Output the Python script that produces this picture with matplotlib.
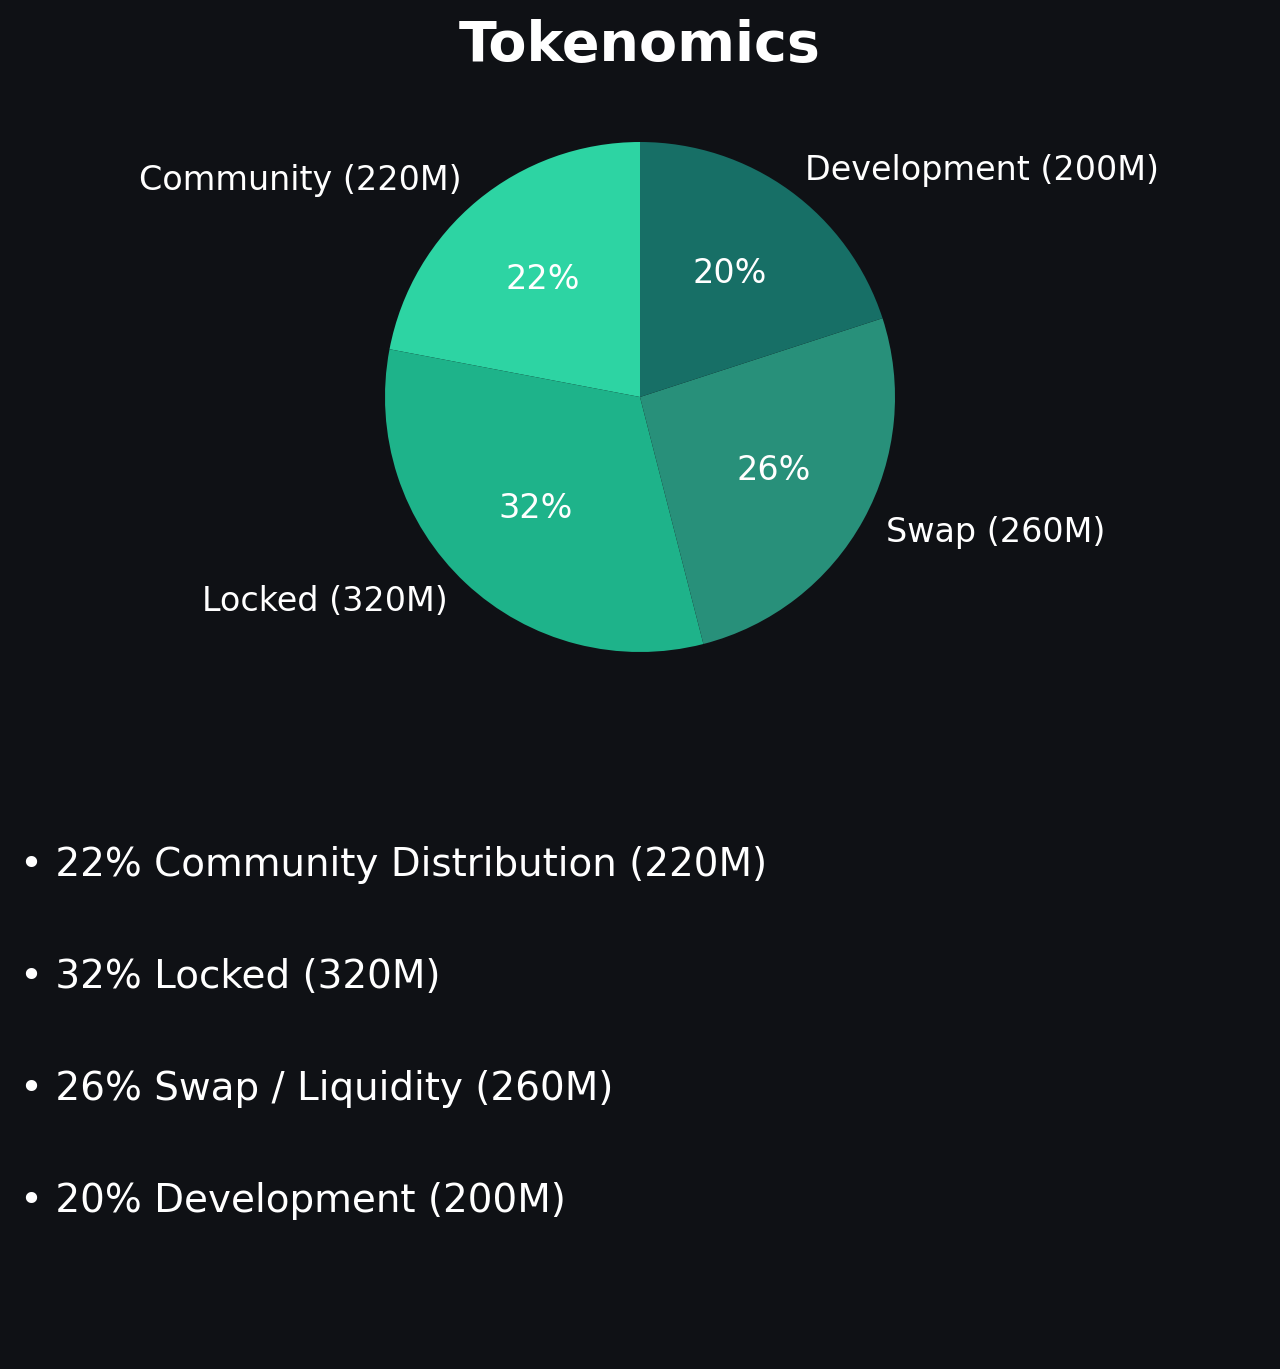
import matplotlib
matplotlib.use('Agg') #no display
import matplotlib.pyplot as plt #plotting functions

labels=['Community (220M)','Locked (320M)','Swap (260M)','Development (200M)'] #slice labels
sizes=[220,320,260,200] #token amounts in millions
colors=['#2dd4a3','#1eb38a','#28907a','#176f66'] #slice colours
bullets=['22% Community Distribution (220M)','32% Locked (320M)','26% Swap / Liquidity (260M)','20% Development (200M)'] #text list below chart

bg='#0f1115' #dark background
W,H=1280,1369 #output size in pixels
fig=plt.figure(figsize=(W/200,H/200),dpi=200,facecolor=bg)

# pie axes: full width, rows 100..700 px, centre at (640,397), radius 255 px
top,bot=100,700
ax=fig.add_axes([0,1-bot/H,1,(bot-top)/H])
ax.set_facecolor(bg)
r=255.0
ax.pie(sizes,labels=labels,colors=colors,autopct='%1.0f%%',startangle=90,counterclock=True,
       textprops={'color':'white','fontsize':12},frame=True)
ax.set_xlim(-640/r,640/r)
ax.set_ylim(-(bot-397)/r,(397-top)/r)
ax.set_aspect('auto')
ax.axis('off')

fig.text(0.5,1-46/H,'Tokenomics',ha='center',va='center',color='white',fontsize=20,fontweight='bold') #title

for i,b in enumerate(bullets): #bullet list
    fig.text(20/W,1-(865+112*i)/H,'\u2022 '+b,ha='left',va='center',color='white',fontsize=14)

fig.savefig('out.png',dpi=200,facecolor=bg)
